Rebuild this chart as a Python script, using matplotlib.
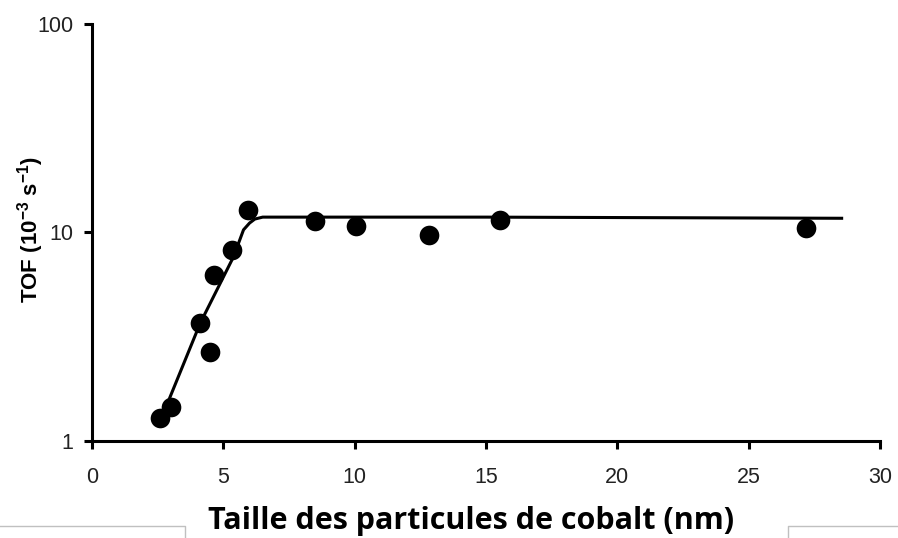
import matplotlib

matplotlib.use("Agg")
import matplotlib.pyplot as plt
from matplotlib.lines import Line2D

plt.rcParams["mathtext.fontset"] = "custom"
plt.rcParams["mathtext.rm"] = "Liberation Sans:bold"
plt.rcParams["mathtext.bf"] = "Liberation Sans:bold"
plt.rcParams["mathtext.it"] = "Liberation Sans:bold"
plt.rcParams["mathtext.default"] = "rm"

# measured particle sizes (nm) and TOF (1e-3 s-1)
size_nm = [2.6, 3.0, 4.1, 4.5, 4.65, 5.35, 5.95, 8.5, 10.05, 12.85, 15.55, 27.2]
tof = [1.29, 1.45, 3.7, 2.66, 6.25, 8.2, 12.8, 11.3, 10.7, 9.75, 11.5, 10.5]

# trend line
fit_x = [2.67, 4.12, 5.39, 5.77, 6.0, 6.2, 6.5, 15.0, 28.6]
fit_y = [1.31, 3.67, 7.65, 10.3, 11.1, 11.6, 11.85, 11.85, 11.7]

x_ticks = [0, 5, 10, 15, 20, 25, 30]
y_ticks = [1, 10, 100]


def main():
    fig = plt.figure(figsize=(8.98, 5.38), dpi=100)
    ax = fig.add_axes([0.1024, 0.1803, 0.8775, 0.7751])

    ax.plot(fit_x, fit_y, color="black", lw=2.2, solid_capstyle="butt",
            solid_joinstyle="round")
    ax.scatter(size_nm, tof, s=200, color="black", zorder=3, linewidths=0)

    ax.set_yscale("log")
    ax.set_xlim(0, 30)
    ax.set_ylim(1, 100)
    ax.set_xticks(x_ticks)
    ax.set_xticklabels([str(t) for t in x_ticks])
    ax.set_yticks(y_ticks)
    ax.set_yticklabels([str(t) for t in y_ticks])
    ax.yaxis.set_minor_locator(matplotlib.ticker.NullLocator())

    for side in ["top", "right"]:
        ax.spines[side].set_visible(False)
    for side in ["left", "bottom"]:
        ax.spines[side].set_linewidth(2.2)

    ax.tick_params(axis="both", direction="out", length=5.5, width=2.2,
                   labelsize=15.5, labelcolor="#222222")
    ax.tick_params(axis="x", pad=13)
    ax.tick_params(axis="y", pad=8)
    for lab in ax.get_xticklabels() + ax.get_yticklabels():
        lab.set_family("Liberation Sans")

    ax.set_ylabel("TOF (10$^{-3}$ s$^{-1}$)", fontsize=16,
                  fontweight="bold", family="Liberation Sans")
    ax.yaxis.set_label_coords(-0.058, 0.508)
    ax.set_xlabel("Taille des particules de cobalt (nm)", fontsize=22,
                  fontweight="bold", family="Open Sans")
    ax.xaxis.set_label_coords(0.481, -0.156)

    # slide frame edges visible under the label
    gray = "#c0c0c0"
    y0 = 12.3 / 538
    fig.add_artist(Line2D([0, 185 / 898, 185 / 898], [y0, y0, 0], color=gray, lw=1))
    fig.add_artist(Line2D([1, 788 / 898, 788 / 898], [y0, y0, 0], color=gray, lw=1))

    fig.savefig("out.png", dpi=100)
    plt.close(fig)


if __name__ == "__main__":
    main()
